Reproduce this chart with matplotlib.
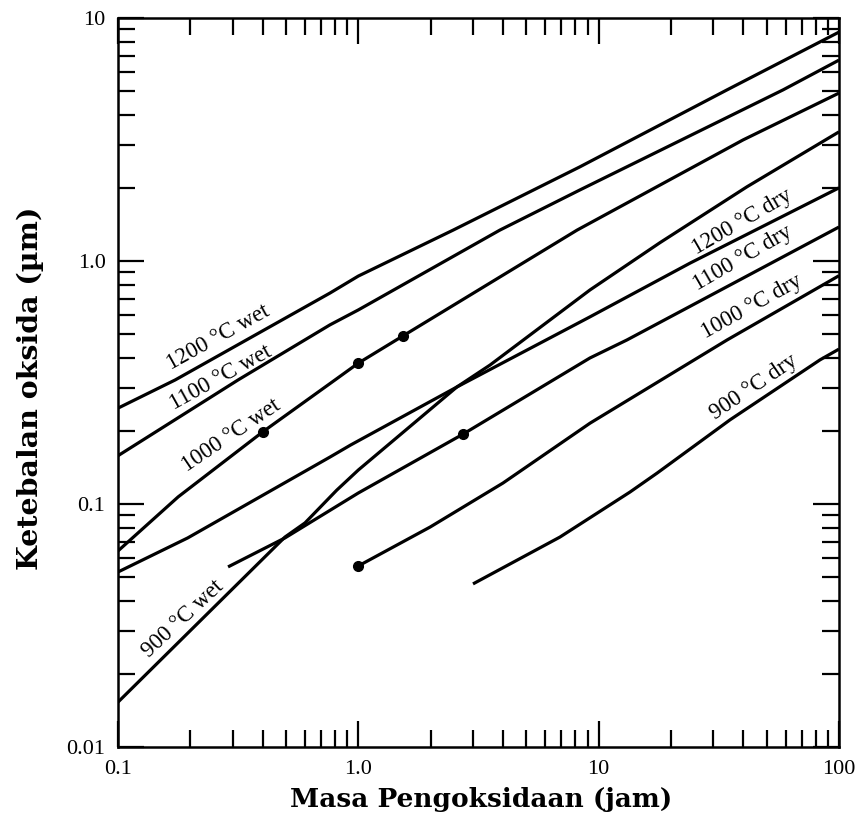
import numpy as np
import matplotlib
matplotlib.use("Agg")
import matplotlib.pyplot as plt
from matplotlib.ticker import FixedLocator, FixedFormatter, LogLocator, NullFormatter

# ---- data (time in hours, oxide thickness in micrometres) ----
t_1200_wet = [0.1, 0.173, 0.762, 1.0, 2.48, 8.35, 34.2, 100]
d_1200_wet = [0.248, 0.324, 0.738, 0.867, 1.34, 2.44, 5.06, 8.75]

t_1100_wet = [0.1, 0.316, 0.762, 1.0, 3.88, 8.35, 58.5, 100]
d_1100_wet = [0.158, 0.324, 0.546, 0.629, 1.34, 1.96, 5.06, 6.71]

t_1000_wet = [0.1, 0.178, 0.40, 0.80, 1.0, 1.53, 8.13, 39.9, 100]
d_1000_wet = [0.0641, 0.107, 0.198, 0.324, 0.38, 0.491, 1.34, 3.15, 4.91]

t_900_wet = [0.1, 0.495, 0.60, 0.813, 1.0, 2.57, 3.53, 9.2, 18.0, 41.4, 100]
d_900_wet = [0.0153, 0.0731, 0.0836, 0.114, 0.138, 0.303, 0.373, 0.76, 1.19, 2.02, 3.40]

t_1200_dry = [0.1, 0.195, 0.762, 0.93, 2.57, 9.2, 24.0, 100]
d_1200_dry = [0.0525, 0.0725, 0.156, 0.175, 0.303, 0.589, 0.98, 2.0]

t_1100_dry = [0.287, 0.495, 1.0, 2.73, 9.2, 13.1, 100]
d_1100_dry = [0.0551, 0.0725, 0.111, 0.194, 0.399, 0.473, 1.38]

t_1000_dry = [1.0, 1.99, 4.0, 9.2, 34.2, 100]
d_1000_dry = [0.0556, 0.0804, 0.122, 0.215, 0.473, 0.87]

t_900_dry = [3.0, 6.9, 13.5, 17.5, 35.2, 83.4, 100]
d_900_dry = [0.0469, 0.0731, 0.112, 0.134, 0.222, 0.392, 0.434]

# marked points
dot_1000_wet_t = [0.40, 1.0, 1.53]
dot_1000_wet_d = [0.198, 0.38, 0.491]
dot_1100_dry_t = [2.73]
dot_1100_dry_d = [0.194]
dot_1000_dry_t = [1.0]
dot_1000_dry_d = [0.0556]

curve_labels = ["1200 °C wet", "1100 °C wet", "1000 °C wet", "900 °C wet",
                "1200 °C dry", "1100 °C dry", "1000 °C dry", "900 °C dry"]

x_ticks = [0.1, 1.0, 10, 100]
x_tick_labels = ["0.1", "1.0", "10", "100"]
y_ticks = [0.01, 0.1, 1.0, 10]
y_tick_labels = ["0.01", "0.1", "1.0", "10"]

# label placement (style): data-coordinate centres and rotation
label_pos = [(0.261, 0.482, 29), (0.268, 0.330, 29), (0.295, 0.192, 34), (0.186, 0.0336, 43),
             (39.5, 1.445, 30), (39.9, 1.03, 30), (43.5, 0.647, 29), (44.3, 0.303, 34)]

fig = plt.figure(figsize=(8.57, 8.33), dpi=100)
ax = fig.add_axes([118/857, 86/833, 721/857, 729/833])

curves = [(t_1200_wet, d_1200_wet), (t_1100_wet, d_1100_wet), (t_1000_wet, d_1000_wet),
          (t_900_wet, d_900_wet), (t_1200_dry, d_1200_dry), (t_1100_dry, d_1100_dry),
          (t_1000_dry, d_1000_dry), (t_900_dry, d_900_dry)]
for t, d in curves:
    ax.plot(t, d, color="black", lw=2.3, solid_capstyle="butt", clip_on=True)

for t, d in [(dot_1000_wet_t, dot_1000_wet_d), (dot_1100_dry_t, dot_1100_dry_d),
             (dot_1000_dry_t, dot_1000_dry_d)]:
    ax.plot(t, d, "o", color="black", ms=7, zorder=5)

ax.set_xscale("log")
ax.set_yscale("log")
ax.set_xlim(0.1, 100)
ax.set_ylim(0.01, 10)

serif = ["Liberation Serif", "DejaVu Serif"]
for (x, y, rot), lab in zip(label_pos, curve_labels):
    ax.text(x, y, lab, rotation=rot, rotation_mode="anchor", ha="center", va="center",
            fontsize=16.5, family=serif)

ax.xaxis.set_major_locator(FixedLocator(x_ticks))
ax.xaxis.set_major_formatter(FixedFormatter(x_tick_labels))
ax.yaxis.set_major_locator(FixedLocator(y_ticks))
ax.yaxis.set_major_formatter(FixedFormatter(y_tick_labels))
ax.xaxis.set_minor_locator(LogLocator(base=10, subs=np.arange(2, 10)))
ax.yaxis.set_minor_locator(LogLocator(base=10, subs=np.arange(2, 10)))
ax.xaxis.set_minor_formatter(NullFormatter())
ax.yaxis.set_minor_formatter(NullFormatter())

ax.tick_params(which="both", direction="in", top=True, right=True, width=1.6, color="black")
ax.tick_params(which="major", length=19, pad=9)
ax.tick_params(which="minor", length=12)
for lbl in ax.get_xticklabels() + ax.get_yticklabels():
    lbl.set_family(serif)
    lbl.set_fontsize(16)
for s in ax.spines.values():
    s.set_linewidth(1.8)

ax.set_xlabel("Masa Pengoksidaan (jam)", fontsize=19, fontweight="bold",
              family=["DejaVu Serif"], va="center")
ax.set_ylabel("Ketebalan oksida (µm)", fontsize=20.5, fontweight="bold",
              family=["DejaVu Serif"], va="center")
ax.xaxis.set_label_coords((481 - 118) / 721, (747 - 800) / 729)
ax.yaxis.set_label_coords((30 - 118) / 721, (747 - 388) / 729)

fig.savefig("out.png", dpi=100)
